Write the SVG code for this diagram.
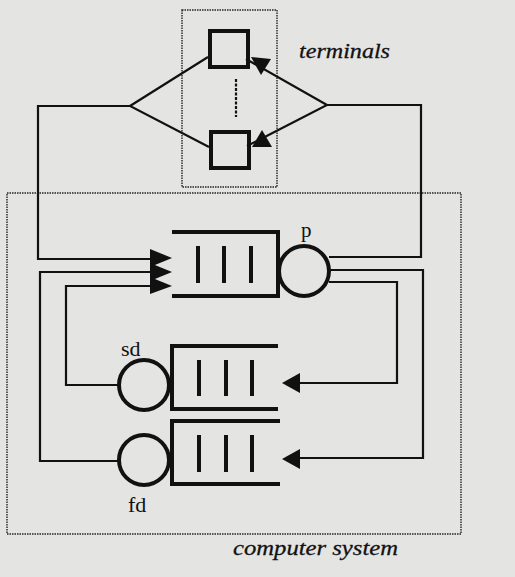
<svg xmlns="http://www.w3.org/2000/svg" width="515" height="577" viewBox="0 0 515 577">
<style>
.thin{fill:none;stroke:#111;stroke-width:2.2}
.thick{fill:none;stroke:#111;stroke-width:4}
.dot{fill:none;stroke:#222;stroke-width:1.4;stroke-dasharray:1.5,1}
.ah{fill:#111;stroke:none}
.lbl{font-family:"Liberation Serif",serif;fill:#111}
.it{font-family:"Liberation Serif",serif;font-style:italic;fill:#111;stroke:#111;stroke-width:0.3}
</style>
<rect width="515" height="577" fill="#e4e4e2"/>
<g id="terminals-box">
<rect class="dot" x="182" y="10" width="95" height="177"/>
<text class="it" x="299" y="58" font-size="22" textLength="91" lengthAdjust="spacingAndGlyphs">terminals</text>
</g>
<g id="computer-system-box">
<rect class="dot" x="7" y="193" width="454" height="341"/>
<text class="it" x="233" y="555" font-size="22" textLength="165" lengthAdjust="spacingAndGlyphs">computer system</text>
</g>
<g id="terminal1"><rect class="thick" x="210" y="31" width="38" height="36"/></g>
<g id="terminal2"><rect class="thick" x="211" y="132" width="38" height="36"/></g>
<g id="terminal-ellipsis"><line class="thin" x1="236" y1="79" x2="236" y2="117" stroke-width="1.6" stroke-dasharray="3,1.5"/></g>
<g id="cpu">
<path class="thick" d="M172,232 H278 V296 H172"/>
<line class="thick" x1="198" y1="246" x2="198" y2="283"/>
<line class="thick" x1="224" y1="246" x2="224" y2="283"/>
<line class="thick" x1="251" y1="246" x2="251" y2="283"/>
<circle class="thick" cx="304" cy="271" r="25"/>
<text class="lbl" x="301" y="237" font-size="21">p</text>
</g>
<g id="sd">
<path class="thick" d="M278,346 H172 V409 H278"/>
<line class="thick" x1="199" y1="360" x2="199" y2="396"/>
<line class="thick" x1="226" y1="360" x2="226" y2="396"/>
<line class="thick" x1="252" y1="360" x2="252" y2="396"/>
<circle class="thick" cx="144" cy="385" r="25"/>
<text class="lbl" x="121" y="356" font-size="22">sd</text>
</g>
<g id="fd">
<path class="thick" d="M280,421 H172 V484 H280"/>
<line class="thick" x1="199" y1="435" x2="199" y2="472"/>
<line class="thick" x1="226" y1="435" x2="226" y2="472"/>
<line class="thick" x1="252" y1="435" x2="252" y2="472"/>
<circle class="thick" cx="144" cy="460" r="25"/>
<text class="lbl" x="128" y="512" font-size="22">fd</text>
</g>
<g id="connectors">
<path class="thin" d="M208,57 L130,106 L209,147"/>
<path class="thin" d="M130,106 H38 V259 H152"/>
<path class="thin" d="M246,59 L327,105 L247,146"/>
<path class="thin" d="M327,105 H421 V257 H329"/>
<path class="thin" d="M329,270 H423 V458 H298"/>
<path class="thin" d="M329,282 H397 V383 H298"/>
<path class="thin" d="M118,461 H40 V272 H152"/>
<path class="thin" d="M118,385 H66 V286 H152"/>
<polygon class="ah" points="251,57 271,59 261,75"/>
<polygon class="ah" points="252,147 262,130 272,147"/>
<polygon class="ah" points="172,258 150,249 150,267"/>
<polygon class="ah" points="172,272 150,263 150,281"/>
<polygon class="ah" points="172,286 150,277 150,294"/>
<polygon class="ah" points="282,383 300,373 300,393"/>
<polygon class="ah" points="282,459 300,449 300,469"/>
</g>
</svg>
